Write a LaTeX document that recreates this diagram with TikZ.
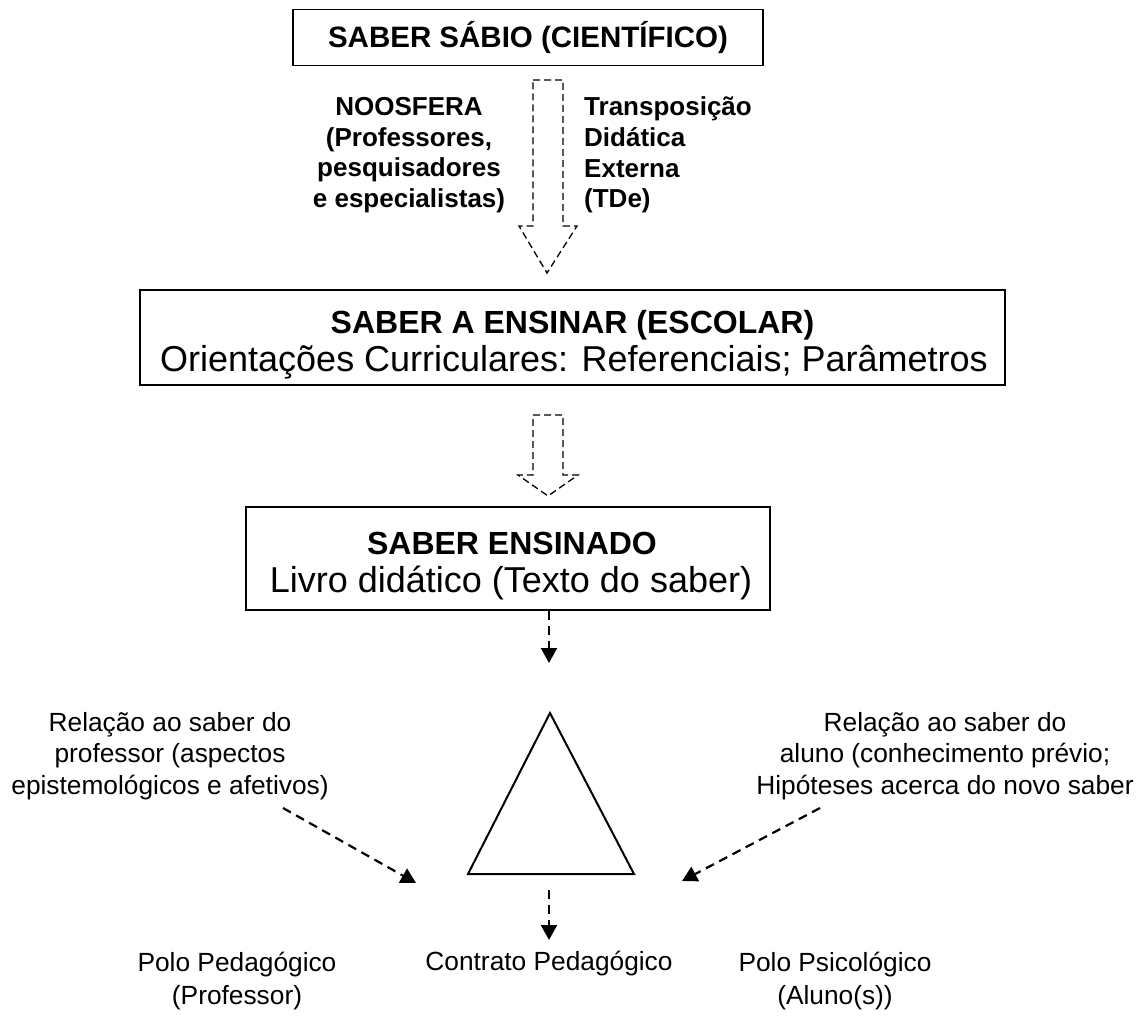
\documentclass[tikz,border=0pt]{standalone}
\usepackage{fontspec}
\setmainfont{Liberation Sans}
\usetikzlibrary{arrows.meta}
\begin{document}
\begin{tikzpicture}[x=1pt,y=-1pt,
  boxstyle/.style={draw,line width=1.4pt,inner sep=0pt},
  hollowarrow/.style={draw,line width=1.3pt,dash pattern=on 7pt off 4pt},
  dasharrow/.style={line width=2.2pt,dash pattern=on 9pt off 6pt,-{Triangle[width=16pt,length=15pt]}},
  labeltext/.style={align=center,inner sep=0pt,font=\fontsize{26.3}{31.5}\selectfont},
  boldside/.style={inner sep=0pt,font=\fontsize{26}{30.7}\selectfont\bfseries},
  headbold/.style={anchor=base,inner sep=0pt,font=\fontsize{32}{36}\selectfont\bfseries},
  subline/.style={anchor=base,inner sep=0pt,font=\fontsize{36}{40}\selectfont}
]
\useasboundingbox (0,0) rectangle (1144,1019);
\fill[white] (0,0) rectangle (1144,1019);

% box 1
\node[boxstyle,minimum width=470pt,minimum height=56pt] (box1) at (528,37.5) {};
\node[anchor=base,inner sep=0pt,font=\fontsize{29.5}{34}\selectfont\bfseries] (t1) at (528,48) {SABER SÁBIO (CIENTÍFICO)};

% hollow arrow 1
\draw[hollowarrow] (533,80) -- (563,80) -- (563,226) -- (577,226) -- (547,273) -- (519,226) -- (533,226) -- cycle;
\node[boldside,align=center] (noos) at (409,155) {NOOSFERA\\(Professores,\\pesquisadores\\e especialistas)};
\node[boldside,align=left,anchor=west] (tde) at (584,155) {Transposição\\Didática\\Externa\\(TDe)};

% box 2
\node[boxstyle,minimum width=865pt,minimum height=95pt] (box2) at (572.5,337.5) {};
\node[headbold] (b2a) at (572.5,333.5) {SABER A ENSINAR (ESCOLAR)};
\node[subline] (b2b) at (574,371) {Orientações Curriculares: Referenciais; Parâmetros};

% hollow arrow 2
\draw[hollowarrow] (533,415) -- (563,415) -- (563,475) -- (578,475) -- (548,496) -- (518,475) -- (533,475) -- cycle;

% box 3
\node[boxstyle,minimum width=524pt,minimum height=103pt] (box3) at (508,558.5) {};
\node[headbold] (b3a) at (512,554.5) {SABER ENSINADO};
\node[subline] (b3b) at (511,592.5) {Livro didático (Texto do saber)};

% arrow from box 3
\coordinate (a1end) at (549,663);
\draw[dasharrow] (box3.south -| a1end) -- (a1end);

% triangle
\coordinate (apex) at (550,713);
\coordinate (bl) at (468,874);
\coordinate (br) at (634,874);
\draw[line width=2pt,line join=miter] (apex) -- (bl) -- (br) -- cycle;

% side labels
\node[labeltext] (lp) at (170,756) {Relação ao saber do\\professor (aspectos\\epistemológicos e afetivos)};
\node[labeltext] (la) at (945,756) {Relação ao saber do\\aluno (conhecimento prévio;\\Hipóteses acerca do novo saber};

\coordinate (lstart) at (283,808);
\coordinate (lend) at (416,883);
\coordinate (rstart) at (820,808);
\coordinate (rend) at (682,881);
\draw[dasharrow] (lstart) -- (lend);
\draw[dasharrow] (rstart) -- (rend);

% bottom arrow
\coordinate (bstart) at (549,890);
\coordinate (bend) at (549,940);
\draw[dasharrow] (bstart) -- (bend);

% bottom labels
\node[labeltext,font=\fontsize{26.3}{33}\selectfont] (pp) at (237,981) {Polo Pedagógico\\(Professor)};
\node[labeltext] (cp) at (549,964) {Contrato Pedagógico};
\node[labeltext,font=\fontsize{26.3}{33}\selectfont] (ps) at (835,981) {Polo Psicológico\\(Aluno(s))};
\end{tikzpicture}
\end{document}
